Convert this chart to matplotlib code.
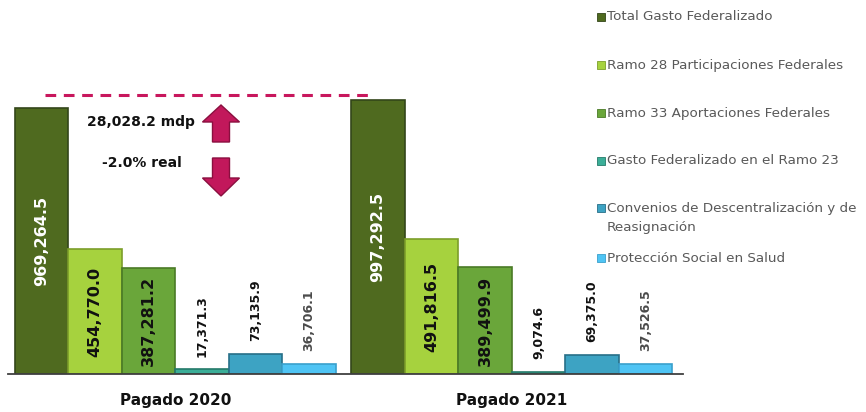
import matplotlib
matplotlib.use("Agg")
import matplotlib.pyplot as plt
from matplotlib.patches import Polygon, Rectangle
import numpy as np

categories = ["Pagado 2020", "Pagado 2021"]
series = ["Total Gasto Federalizado",
          "Ramo 28 Participaciones Federales",
          "Ramo 33 Aportaciones Federales",
          "Gasto Federalizado en el Ramo 23",
          "Convenios de Descentralización y de\nReasignación",
          "Protección Social en Salud"]
values_2020 = [969264.5, 454770.0, 387281.2, 17371.3, 73135.9, 36706.1]
values_2021 = [997292.5, 491816.5, 389499.9, 9074.6, 69375.0, 37526.5]
labels_2020 = ["969,264.5", "454,770.0", "387,281.2", "17,371.3", "73,135.9", "36,706.1"]
labels_2021 = ["997,292.5", "491,816.5", "389,499.9", "9,074.6", "69,375.0", "37,526.5"]
diff_text = "28,028.2 mdp"
real_text = "-2.0% real"
ref_level = 1016000

colors = ["#4F6A1F", "#A6D23E", "#6AA63A", "#3BAE98", "#3DA3C3", "#4FC4F4"]
edges = ["#33461A", "#7C9E2A", "#4A7A26", "#257A6A", "#276F88", "#3AA0CC"]
label_colors_inside = ["white", "#111111", "#111111"]

fig = plt.figure(figsize=(8.66, 4.12), dpi=100)
ax = fig.add_axes([0.0092, 0.0922, 0.7794, 0.7330])

w = 0.159
x = np.arange(len(categories))
data = [values_2020, values_2021]
labs = [labels_2020, labels_2021]
for i in range(len(series)):
    vals = [d[i] for d in data]
    pos = x + (i - 2.5) * w
    ax.bar(pos, vals, width=w, color=colors[i], edgecolor=edges[i], linewidth=1.2, zorder=2)
    for g in range(len(categories)):
        v = vals[g]
        t = labs[g][i]
        if i < 3:
            ax.text(pos[g], v / 2, t, rotation=90, ha="center", va="center",
                    fontsize=11.5, fontweight="bold", color=label_colors_inside[i], zorder=3)
        else:
            c = "#111111" if i < 5 else "#4A4A4A"
            ax.annotate(t, (pos[g], v), xytext=(0, 9), textcoords="offset points",
                        rotation=90, ha="center", va="bottom",
                        fontsize=9, fontweight="bold", color=c, zorder=3)

ax.hlines(ref_level, -0.387, 0.595, colors="#C8175D", linestyles=(0, (3.5, 2.5)), linewidth=2.2, zorder=4)

ax.set_xlim(-0.497, 1.509)
ax.set_ylim(0, 1.1e6)
ax.set_xticks(x)
ax.set_xticklabels(categories, fontsize=11, fontweight="bold", color="#111111")
ax.tick_params(axis="x", length=0, pad=14)
ax.set_yticks([])
for s in ["top", "left", "right"]:
    ax.spines[s].set_visible(False)
ax.spines["bottom"].set_color("#404040")
ax.spines["bottom"].set_linewidth(1.3)

fig.text(141 / 866, 1 - 122 / 412, diff_text, ha="center", va="center",
         fontsize=10, fontweight="bold", color="#111111")
fig.text(142 / 866, 1 - 163 / 412, real_text, ha="center", va="center",
         fontsize=10, fontweight="bold", color="#111111")

def px(pts):
    return [(a / 866, 1 - b / 412) for a, b in pts]

cx = 221
up = [(cx, 105), (cx + 18.5, 122), (cx + 8.5, 122), (cx + 8.5, 142),
      (cx - 8.5, 142), (cx - 8.5, 122), (cx - 18.5, 122)]
down = [(cx, 196), (cx + 18.5, 178), (cx + 8.5, 178), (cx + 8.5, 158),
        (cx - 8.5, 158), (cx - 8.5, 178), (cx - 18.5, 178)]
for poly in (up, down):
    fig.patches.append(Polygon(px(poly), closed=True, transform=fig.transFigure,
                               facecolor="#C2185B", edgecolor="#8A0F3F", linewidth=1))

legend_y = [17, 65, 113, 161, 208, 258]
for i, s in enumerate(series):
    yy = legend_y[i]
    fig.patches.append(Rectangle((597 / 866, 1 - (yy + 4) / 412), 8 / 866, 8 / 412,
                                 transform=fig.transFigure, facecolor=colors[i],
                                 edgecolor=edges[i], linewidth=0.6))
    ty = yy + 10 if "\n" in s else yy
    fig.text(607 / 866, 1 - ty / 412, s, ha="left", va="center",
             fontsize=9.7, color="#595959", linespacing=1.65)

fig.savefig("out.png", dpi=100)
